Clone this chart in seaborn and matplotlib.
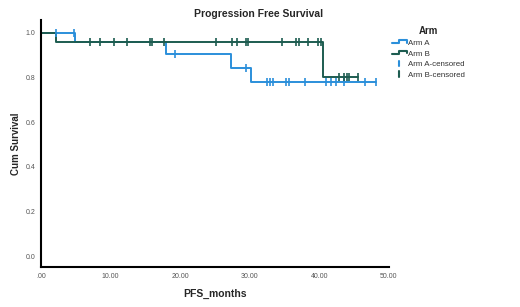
import numpy as np
import pandas as pd
import seaborn as sns
import matplotlib
matplotlib.use("Agg")
import matplotlib.pyplot as plt
from matplotlib.legend_handler import HandlerBase
from matplotlib.lines import Line2D

# ---- data ----
armA_times = [0.0, 4.85, 18.0, 27.3, 30.1, 48.1]
armA_surv = [1.0, 0.958, 0.903, 0.842, 0.779, 0.779]
armA_cens = [2.1, 4.8, 19.3, 29.5, 32.5, 32.9, 33.3, 35.2, 35.6, 38.0,
             40.9, 41.7, 42.4, 43.5, 46.6, 48.1]

armB_times = [0.0, 2.2, 40.5, 45.6]
armB_surv = [1.0, 0.958, 0.801, 0.801]
armB_cens = [7.1, 8.5, 10.5, 12.4, 15.6, 16.0, 17.6, 25.1, 27.4, 28.1, 29.4,
             29.8, 34.6, 36.7, 37.0, 38.3, 39.8, 40.2, 42.8, 43.6, 44.0, 44.3, 45.6]

arms = ["Arm A", "Arm B"]
legend_labels = ["Arm A", "Arm B", "Arm A-censored", "Arm B-censored"]
x_ticks = [0, 10, 20, 30, 40, 50]
x_ticklabels = [".00", "10.00", "20.00", "30.00", "40.00", "50.00"]
y_ticks = [0.0, 0.2, 0.4, 0.6, 0.8, 1.0]
y_ticklabels = ["0.0", "0.2", "0.4", "0.6", "0.8", "1.0"]

colors = {"Arm A": "#2b8fda", "Arm B": "#1d5c50"}

sns.set_style("white")
plt.rcParams["font.family"] = ["Liberation Sans", "DejaVu Sans"]

fig = plt.figure(figsize=(5.2, 3.07), dpi=100)
ax = fig.add_axes([0.079, 0.130, 0.669, 0.805])


def step_value(times, surv, t):
    idx = np.searchsorted(times, t, side="right") - 1
    return np.asarray(surv)[idx]


curves = {"Arm A": (armA_times, armA_surv, armA_cens),
          "Arm B": (armB_times, armB_surv, armB_cens)}

for arm in arms:
    times, surv, cens = curves[arm]
    df = pd.DataFrame({"t": times, "s": surv})
    sns.lineplot(data=df, x="t", y="s", ax=ax, color=colors[arm],
                 drawstyle="steps-post", linewidth=1.4, estimator=None,
                 sort=False)
for arm in arms:
    times, surv, cens = curves[arm]
    cdf = pd.DataFrame({"t": cens, "s": step_value(times, surv, cens)})
    sns.scatterplot(data=cdf, x="t", y="s", ax=ax, marker="|", s=36,
                    linewidth=1.2, color=colors[arm], zorder=3)

ax.set_xlim(0, 50)
ax.set_ylim(-0.049, 1.057)
ax.set_xticks(x_ticks)
ax.set_xticklabels(x_ticklabels)
ax.set_yticks(y_ticks)
ax.set_yticklabels(y_ticklabels)
ax.tick_params(length=0, labelsize=5, labelcolor="#555555", pad=4)
for sp in ["top", "right"]:
    ax.spines[sp].set_visible(False)
for sp in ["left", "bottom"]:
    ax.spines[sp].set_color("black")
    ax.spines[sp].set_linewidth(1.5)

ax.set_xlabel("PFS_months", fontsize=7.5, fontweight="bold", labelpad=7)
ax.set_ylabel("Cum Survival", fontsize=7, fontweight="bold", labelpad=3)
fig.text(0.498, 0.955, "Progression Free Survival", ha="center", va="center",
         fontsize=7.5, fontweight="bold")


class StepHandler(HandlerBase):
    def create_artists(self, legend, orig_handle, xdescent, ydescent, width,
                       height, fontsize, trans):
        c = orig_handle.get_color()
        xs = [0, 0.45 * width, 0.45 * width, width, width]
        ys = [0.3 * height, 0.3 * height, 0.85 * height, 0.85 * height, 0.4 * height]
        ln = Line2D(np.array(xs) - xdescent, np.array(ys) - ydescent,
                    color=c, lw=1.5, transform=trans)
        return [ln]


class TickHandler(HandlerBase):
    def create_artists(self, legend, orig_handle, xdescent, ydescent, width,
                       height, fontsize, trans):
        c = orig_handle.get_color()
        x = 0.45 * width - xdescent
        ln = Line2D([x, x], [0.0 * height - ydescent, 1.0 * height - ydescent],
                    color=c, lw=1.5, transform=trans)
        return [ln]


hA = Line2D([], [], color=colors["Arm A"])
hB = Line2D([], [], color=colors["Arm B"])
hAc = Line2D([], [], color=colors["Arm A"], marker="|")
hBc = Line2D([], [], color=colors["Arm B"], marker="|")
leg = fig.legend([hA, hB, hAc, hBc], legend_labels,
                 handler_map={hA: StepHandler(), hB: StepHandler(),
                              hAc: TickHandler(), hBc: TickHandler()},
                 loc="upper left", bbox_to_anchor=(0.748, 0.925),
                 frameon=False, fontsize=5.7, title="Arm",
                 handlelength=1.9, handletextpad=0.1, labelspacing=0.4,
                 borderaxespad=0)
leg.get_title().set_fontweight("bold")
leg.get_title().set_fontsize(7)
for t in leg.get_texts():
    t.set_color("#333333")

fig.savefig("out.png", dpi=100)
